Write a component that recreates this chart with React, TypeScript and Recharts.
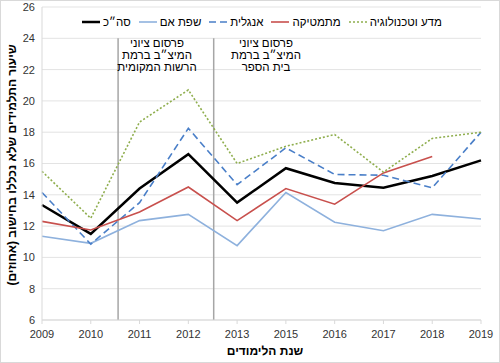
import { CartesianGrid, Line, LineChart, ReferenceLine, XAxis, YAxis } from "recharts";

const years = ["2009", "2010", "2011", "2012", "2013", "2015", "2016", "2017", "2018", "2019"];
const total = [13.35, 11.5, 14.4, 16.6, 13.5, 15.7, 14.75, 14.45, 15.2, 16.2];
const motherTongue = [11.35, 10.9, 12.35, 12.75, 10.75, 14.15, 12.25, 11.7, 12.75, 12.45];
const english = [14.15, 10.85, 13.5, 18.25, 14.65, 17.0, 15.3, 15.25, 14.45, 18.0];
const math = [12.3, 11.75, 12.9, 14.5, 12.35, 14.4, 13.4, 15.4, 16.45, null];
const science = [15.5, 12.5, 18.65, 20.7, 16.0, 17.1, 17.85, 15.45, 17.6, 18.0];
const yTicks = [6, 8, 10, 12, 14, 16, 18, 20, 22, 24, 26];

const data = years.map((year, i) => ({
  i,
  year,
  total: total[i],
  motherTongue: motherTongue[i],
  english: english[i],
  math: math[i],
  science: science[i],
}));

const series = [
  { key: "total", name: "סה״כ", color: "#000000", width: 2.5, dash: undefined },
  { key: "motherTongue", name: "שפת אם", color: "#8eb1dd", width: 1.6, dash: undefined },
  { key: "english", name: "אנגלית", color: "#4a7fc8", width: 1.6, dash: "7 4" },
  { key: "math", name: "מתמטיקה", color: "#c8504d", width: 1.6, dash: undefined },
  { key: "science", name: "מדע וטכנולוגיה", color: "#8fae4e", width: 1.6, dash: "2 2" },
];

const font = "'Liberation Sans', Arial, sans-serif";

export default function App() {
  return (
    <div style={{ position: "absolute", left: 0, top: 0, width: 500, height: 363, background: "#fff", fontFamily: font }}>
      <LineChart width={500} height={363} data={data} margin={{ top: 7, right: 19, bottom: 12, left: 0 }}>
        <CartesianGrid vertical={false} stroke="#e3e3e3" />
        <XAxis
          type="number"
          dataKey="i"
          domain={[0, 9]}
          ticks={[0, 1, 2, 3, 4, 5, 6, 7, 8, 9]}
          tickFormatter={(v) => years[v]}
          height={31}
          stroke="#d9d9d9"
          tickSize={4}
          tickMargin={6}
          tick={{ fill: "#333", fontSize: 11, fontFamily: font }}
        />
        <YAxis
          domain={[6, 26]}
          ticks={yTicks}
          width={42}
          axisLine={{ stroke: "#d9d9d9" }}
          tickLine={false}
          tickMargin={1}
          tick={{ fill: "#333", fontSize: 11, fontFamily: font }}
        />
        <ReferenceLine segment={[{ x: 1.56, y: 6 }, { x: 1.56, y: 24 }]} stroke="#a6a6a6" strokeWidth={1.5} />
        <ReferenceLine segment={[{ x: 3.52, y: 6 }, { x: 3.52, y: 24 }]} stroke="#a6a6a6" strokeWidth={1.5} />
        {series.map((s) => (
          <Line
            key={s.key}
            type="linear"
            dataKey={s.key}
            stroke={s.color}
            strokeWidth={s.width}
            strokeDasharray={s.dash}
            dot={false}
            activeDot={false}
            isAnimationActive={false}
          />
        ))}
      </LineChart>

      <div style={{ position: "absolute", left: 82, top: 16, display: "flex", alignItems: "center", fontSize: 11.5, color: "#000" }}>
        {series.map((s) => (
          <div key={s.key} style={{ display: "flex", alignItems: "center", marginRight: 8 }}>
            <svg width={18} height={10}>
              <line x1={0} y1={5} x2={18} y2={5} stroke={s.color} strokeWidth={s.width} strokeDasharray={s.dash} />
            </svg>
            <span dir="rtl" style={{ marginLeft: 3, whiteSpace: "nowrap" }}>{s.name}</span>
          </div>
        ))}
      </div>

      <div dir="rtl" style={{ position: "absolute", left: 117, width: 80, top: 37, textAlign: "center", fontSize: 11.5, lineHeight: "12px", color: "#000" }}>
        פרסום ציוני
        <br />
        המיצ״ב ברמת
        <br />
        הרשות המקומית
      </div>
      <div dir="rtl" style={{ position: "absolute", left: 226, width: 80, top: 37, textAlign: "center", fontSize: 11.5, lineHeight: "12px", color: "#000" }}>
        פרסום ציוני
        <br />
        המיצ״ב ברמת
        <br />
        בית הספר
      </div>

      <div
        dir="rtl"
        style={{
          position: "absolute",
          left: 12,
          top: 165,
          transform: "translate(-50%, -50%) rotate(-90deg)",
          whiteSpace: "nowrap",
          fontSize: 12,
          fontWeight: "bold",
          color: "#000",
        }}
      >
        שיעור התלמידים שלא נכללו בחישוב (אחוזים)
      </div>
      <div dir="rtl" style={{ position: "absolute", left: 0, width: 530, top: 344, textAlign: "center", fontSize: 12, fontWeight: "bold", color: "#000" }}>
        שנת הלימודים
      </div>

      <div style={{ position: "absolute", left: 0, top: 0, width: 500, height: 363, boxSizing: "border-box", border: "1px solid #d9d9d9", pointerEvents: "none" }} />
    </div>
  );
}
